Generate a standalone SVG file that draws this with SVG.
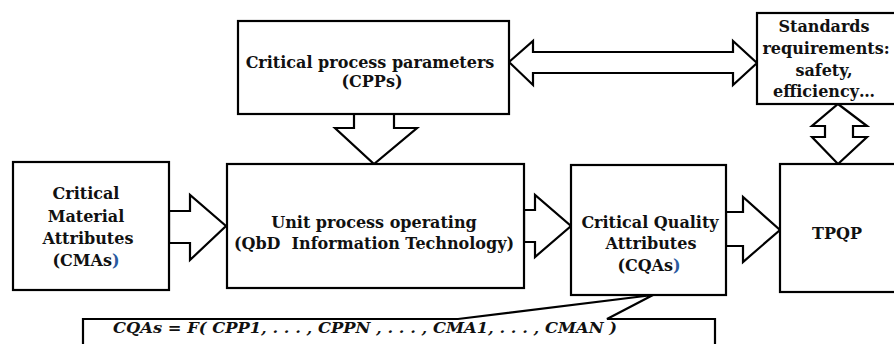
<svg xmlns="http://www.w3.org/2000/svg" width="894" height="344" viewBox="0 0 894 344">
<style>
.box{fill:#fff;stroke:#000;stroke-width:2.2}
.arr{fill:#fff;stroke:#000;stroke-width:2.2;stroke-linejoin:miter}
.t{font-family:"DejaVu Serif","Liberation Serif",serif;font-weight:bold;font-size:16px;fill:#111;text-anchor:middle}
.f{font-family:"DejaVu Serif","Liberation Serif",serif;font-weight:bold;font-style:italic;font-size:14px;fill:#111}
.blue{fill:#2a5aa0}
</style>
<rect width="894" height="344" fill="#fff"/>
<g id="connectors">
<polygon class="arr" points="354,114 354,128 335,128 374,164 417,128 394,128 394,114"/>
<polygon class="arr" points="509,62 533,41 533,52 733,52 733,41 757,63 733,85 733,73 533,73 533,85"/>
<polygon class="arr" points="838,104 867,126 853,126 853,137 867,137 838,164 812,137 825,137 825,126 812,126"/>
<polygon class="arr" points="169,211 190,211 190,195 226,226 190,260 190,243 169,243"/>
<polygon class="arr" points="524,210 535,210 535,195 571,226 535,257 535,242 524,242"/>
<polygon class="arr" points="726,212 743,212 743,197 780,230 743,262 743,246 726,246"/>
</g>
<g id="cpp">
<rect class="box" x="238" y="21" width="271" height="93"/>
<text class="t" x="370" y="68">Critical process parameters</text>
<text class="t" x="372" y="87">(CPPs)</text>
</g>
<g id="standards">
<rect class="box" x="757" y="13" width="150" height="91"/>
<text class="t" x="824" y="32">Standards</text>
<text class="t" x="826" y="54">requirements:</text>
<text class="t" x="824" y="76">safety,</text>
<text class="t" x="824" y="97">efficiency…</text>
</g>
<g id="cma">
<rect class="box" x="13" y="162" width="156" height="128"/>
<text class="t" x="86" y="199">Critical</text>
<text class="t" x="86" y="222">Material</text>
<text class="t" x="88" y="244">Attributes</text>
<text class="t" x="86" y="266">(CMAs<tspan class="blue">)</tspan></text>
</g>
<g id="unit">
<rect class="box" x="227" y="164" width="297" height="124"/>
<text class="t" x="374" y="228">Unit process operating</text>
<text class="t" x="374" y="249" xml:space="preserve">(QbD  Information Technology)</text>
</g>
<g id="cqa">
<rect class="box" x="571" y="165" width="155" height="130"/>
<text class="t" x="650" y="228">Critical Quality</text>
<text class="t" x="651" y="249">Attributes</text>
<text class="t" x="649" y="271">(CQAs<tspan class="blue">)</tspan></text>
</g>
<g id="tpqp">
<rect class="box" x="780" y="164" width="120" height="128"/>
<text class="t" x="837" y="239">TPQP</text>
</g>
<g id="formula">
<path class="box" d="M83 350 V319 H458 L653 295 L607 319 H715 V350"/>
<text class="f" x="113" y="333" textLength="504" lengthAdjust="spacingAndGlyphs" xml:space="preserve">CQAs = F( CPP1, . . . , CPPN , . . . , CMA1, . . . , CMAN )</text>
</g>
</svg>
